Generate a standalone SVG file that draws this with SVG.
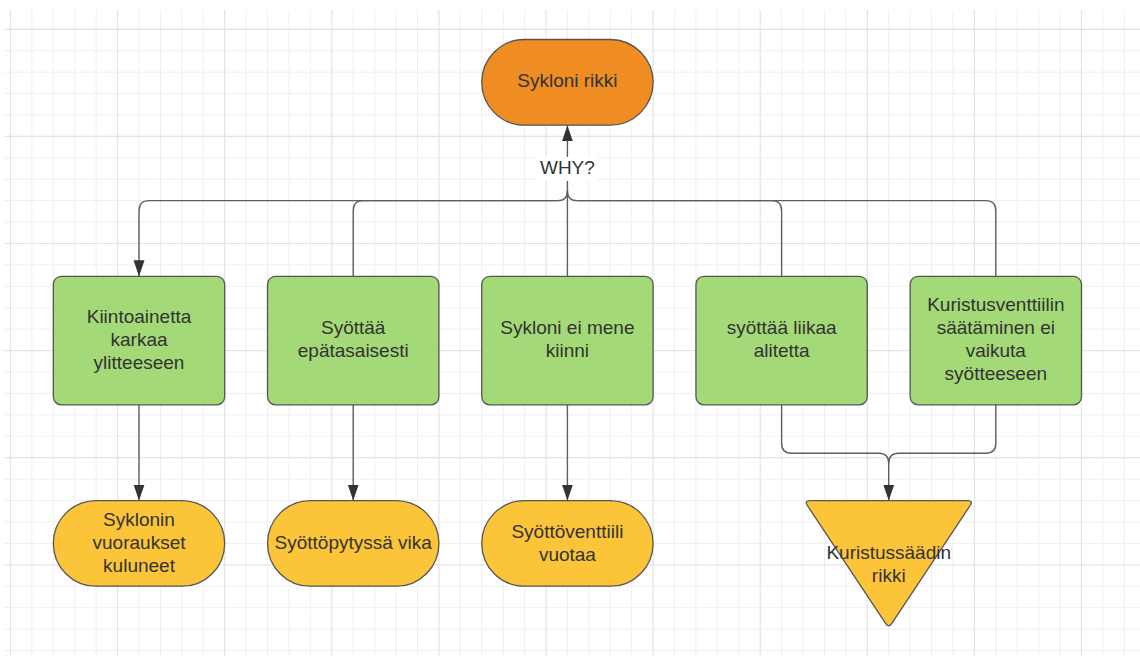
<svg xmlns="http://www.w3.org/2000/svg" width="1140" height="656" viewBox="0 0 1140 656">
  <style>
    .grid-minor { stroke: #efefef; stroke-width: 1; fill: none; }
    .grid-major { stroke: #e3e3e3; stroke-width: 1.2; fill: none; }
    .node { stroke: #555555; stroke-width: 1.3; }
    .cause { fill: #a3d977; }
    .root { fill: #ef8d22; }
    .result { fill: #fcc438; }
    .wire { stroke: #5e5e5e; stroke-width: 1.4; fill: none; }
    .label { font-family: "Liberation Sans", Arial, sans-serif; font-size: 19px; fill: #333333; text-anchor: middle; }
  </style>
  <defs>
    <marker id="arrow" markerUnits="userSpaceOnUse" markerWidth="17" markerHeight="12" refX="16" refY="5.5" orient="auto">
      <path d="M0,0 L16,5.5 L0,11 Z" fill="#333333"/>
    </marker>
  </defs>

  <!-- canvas background and grid -->
  <rect x="0" y="0" width="1140" height="656" fill="#ffffff"/>
  <g id="grid">
    <path class="grid-minor" d="M31.92 10V656M53.34 10V656M74.76 10V656M96.18 10V656M139.02 10V656M160.44 10V656M181.86 10V656M203.28 10V656M246.12 10V656M267.54 10V656M288.96 10V656M310.38 10V656M353.22 10V656M374.64 10V656M396.06 10V656M417.48 10V656M460.32 10V656M481.74 10V656M503.16 10V656M524.58 10V656M567.42 10V656M588.84 10V656M610.26 10V656M631.68 10V656M674.52 10V656M695.94 10V656M717.36 10V656M738.78 10V656M781.62 10V656M803.04 10V656M824.46 10V656M845.88 10V656M888.72 10V656M910.14 10V656M931.56 10V656M952.98 10V656M995.82 10V656M1017.24 10V656M1038.66 10V656M1060.08 10V656M1102.92 10V656M1124.34 10V656
      M4 50.72H1140M4 72.14H1140M4 93.56H1140M4 114.98H1140M4 157.82H1140M4 179.24H1140M4 200.66H1140M4 222.08H1140M4 264.92H1140M4 286.34H1140M4 307.76H1140M4 329.18H1140M4 372.02H1140M4 393.44H1140M4 414.86H1140M4 436.28H1140M4 479.12H1140M4 500.54H1140M4 521.96H1140M4 543.38H1140M4 586.22H1140M4 607.64H1140M4 629.06H1140M4 650.48H1140"/>
    <path class="grid-major" d="M10.5 10V656M117.6 10V656M224.7 10V656M331.8 10V656M438.9 10V656M546 10V656M653.1 10V656M760.2 10V656M867.3 10V656M974.4 10V656M1081.5 10V656
      M4 29.3H1140M4 136.4H1140M4 243.5H1140M4 350.6H1140M4 457.7H1140M4 564.8H1140"/>
  </g>

  <!-- connectors -->
  <g id="connectors">
    <path class="wire" d="M567.42 276.3V125.4" marker-end="url(#arrow)"/>
    <path class="wire" d="M567.42 191Q567.42 200.66 557.42 200.66H149.02Q139.02 200.66 139.02 210.66V276.3" marker-end="url(#arrow)"/>
    <path class="wire" d="M353.22 276.3V210.66Q353.22 200.66 363.22 200.66H557.42"/>
    <path class="wire" d="M567.42 191Q567.42 200.66 577.42 200.66H985.82Q995.82 200.66 995.82 210.66V276.3"/>
    <path class="wire" d="M781.62 276.3V210.66Q781.62 200.66 771.62 200.66H577.42"/>
    <path class="wire" d="M139.02 404.8V500.54" marker-end="url(#arrow)"/>
    <path class="wire" d="M353.22 404.8V500.54" marker-end="url(#arrow)"/>
    <path class="wire" d="M567.42 404.8V500.54" marker-end="url(#arrow)"/>
    <path class="wire" d="M781.62 404.8V443.3Q781.62 453.3 791.62 453.3H878.72Q888.72 453.3 888.72 463.3V500.54" marker-end="url(#arrow)"/>
    <path class="wire" d="M995.82 404.8V443.3Q995.82 453.3 985.82 453.3H898.72Q888.72 453.3 888.72 463.3"/>
    <rect x="538" y="157" width="59" height="24" fill="#ffffff"/>
    <text class="label" x="567.42" y="173.5">WHY?</text>
  </g>

  <!-- problem -->
  <g id="sykloni-rikki">
    <rect class="node root" x="481.74" y="39.5" width="171.36" height="85.7" rx="42.85"/>
    <text class="label" x="567.42" y="87">Sykloni rikki</text>
  </g>

  <!-- causes -->
  <g id="kiintoainetta">
    <rect class="node cause" x="53.34" y="276.3" width="171.36" height="128.5" rx="8"/>
    <text class="label" x="139.02" y="322.5">Kiintoainetta</text>
    <text class="label" x="139.02" y="345.5">karkaa</text>
    <text class="label" x="139.02" y="368.5">ylitteeseen</text>
  </g>
  <g id="syottaa-epatasaisesti">
    <rect class="node cause" x="267.54" y="276.3" width="171.36" height="128.5" rx="8"/>
    <text class="label" x="353.22" y="334">Syöttää</text>
    <text class="label" x="353.22" y="357">epätasaisesti</text>
  </g>
  <g id="ei-mene-kiinni">
    <rect class="node cause" x="481.74" y="276.3" width="171.36" height="128.5" rx="8"/>
    <text class="label" x="567.42" y="334">Sykloni ei mene</text>
    <text class="label" x="567.42" y="357">kiinni</text>
  </g>
  <g id="liikaa-alitetta">
    <rect class="node cause" x="695.94" y="276.3" width="171.36" height="128.5" rx="8"/>
    <text class="label" x="781.62" y="334">syöttää liikaa</text>
    <text class="label" x="781.62" y="357">alitetta</text>
  </g>
  <g id="kuristusventtiili">
    <rect class="node cause" x="910.14" y="276.3" width="171.36" height="128.5" rx="8"/>
    <text class="label" x="995.82" y="310.5">Kuristusventtiilin</text>
    <text class="label" x="995.82" y="333.5">säätäminen ei</text>
    <text class="label" x="995.82" y="356.5">vaikuta</text>
    <text class="label" x="995.82" y="379.5">syötteeseen</text>
  </g>

  <!-- root causes -->
  <g id="vuoraukset">
    <rect class="node result" x="53.34" y="500.54" width="171.36" height="85.68" rx="42.84"/>
    <text class="label" x="139.02" y="525.5">Syklonin</text>
    <text class="label" x="139.02" y="548.5">vuoraukset</text>
    <text class="label" x="139.02" y="571.5">kuluneet</text>
  </g>
  <g id="syottopytty">
    <rect class="node result" x="267.54" y="500.54" width="171.36" height="85.68" rx="42.84"/>
    <text class="label" x="353.22" y="548.5">Syöttöpytyssä vika</text>
  </g>
  <g id="syottoventtiili">
    <rect class="node result" x="481.74" y="500.54" width="171.36" height="85.68" rx="42.84"/>
    <text class="label" x="567.42" y="537.5">Syöttöventtiili</text>
    <text class="label" x="567.42" y="560.5">vuotaa</text>
  </g>
  <g id="kuristussaadin">
    <path class="node result" d="M810 500.54H967.5Q973.5 500.54 970.16 505.5L891.5 623.8Q888.72 628 885.94 623.8L807.34 505.5Q804 500.54 810 500.54Z"/>
    <text class="label" x="888.72" y="559">Kuristussäädin</text>
    <text class="label" x="888.72" y="582">rikki</text>
  </g>
</svg>
